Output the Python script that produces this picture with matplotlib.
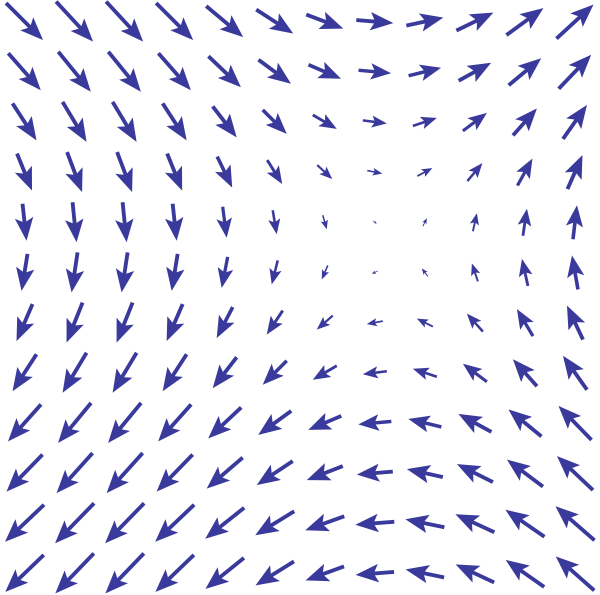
import numpy as np
import matplotlib
matplotlib.use("Agg")
import matplotlib.pyplot as plt

# Horizontal component depends only on the row (top -> bottom),
# vertical component only on the column (left -> right), y pointing up.
cols = np.arange(12)
rows = np.arange(12)
u_by_row = [3.7, 3.25, 2.4, 1.5, 0.4, -0.6, -1.6, -2.4, -3.3, -3.6, -3.9, -3.85]
v_by_col = [-3.7, -4.0, -4.0, -3.7, -3.1, -2.4, -1.4, -0.3, 0.8, 1.8, 2.7, 3.4]

ARROW = "#3a3a9c"


def main():
    col_grid, row_grid = np.meshgrid(cols, rows)
    x = col_grid
    y = 11 - row_grid
    v_grid, u_grid = np.meshgrid(v_by_col, u_by_row)

    fig = plt.figure(figsize=(6.0, 5.95), dpi=100)
    ax = fig.add_axes([0, 0, 1, 1])

    ax.quiver(x, y, u_grid, v_grid, color=ARROW, pivot='middle',
              scale_units='dots', scale=0.1, width=0.0064,
              headwidth=4.8, headlength=6.0, headaxislength=5.0,
              minshaft=1.6, minlength=0.3)

    ax.set_xlim(-0.49, 11.5)
    ax.set_ylim(-0.43, 11.43)
    ax.axis('off')

    fig.savefig("out.png", dpi=100, facecolor='white')


if __name__ == "__main__":
    main()
